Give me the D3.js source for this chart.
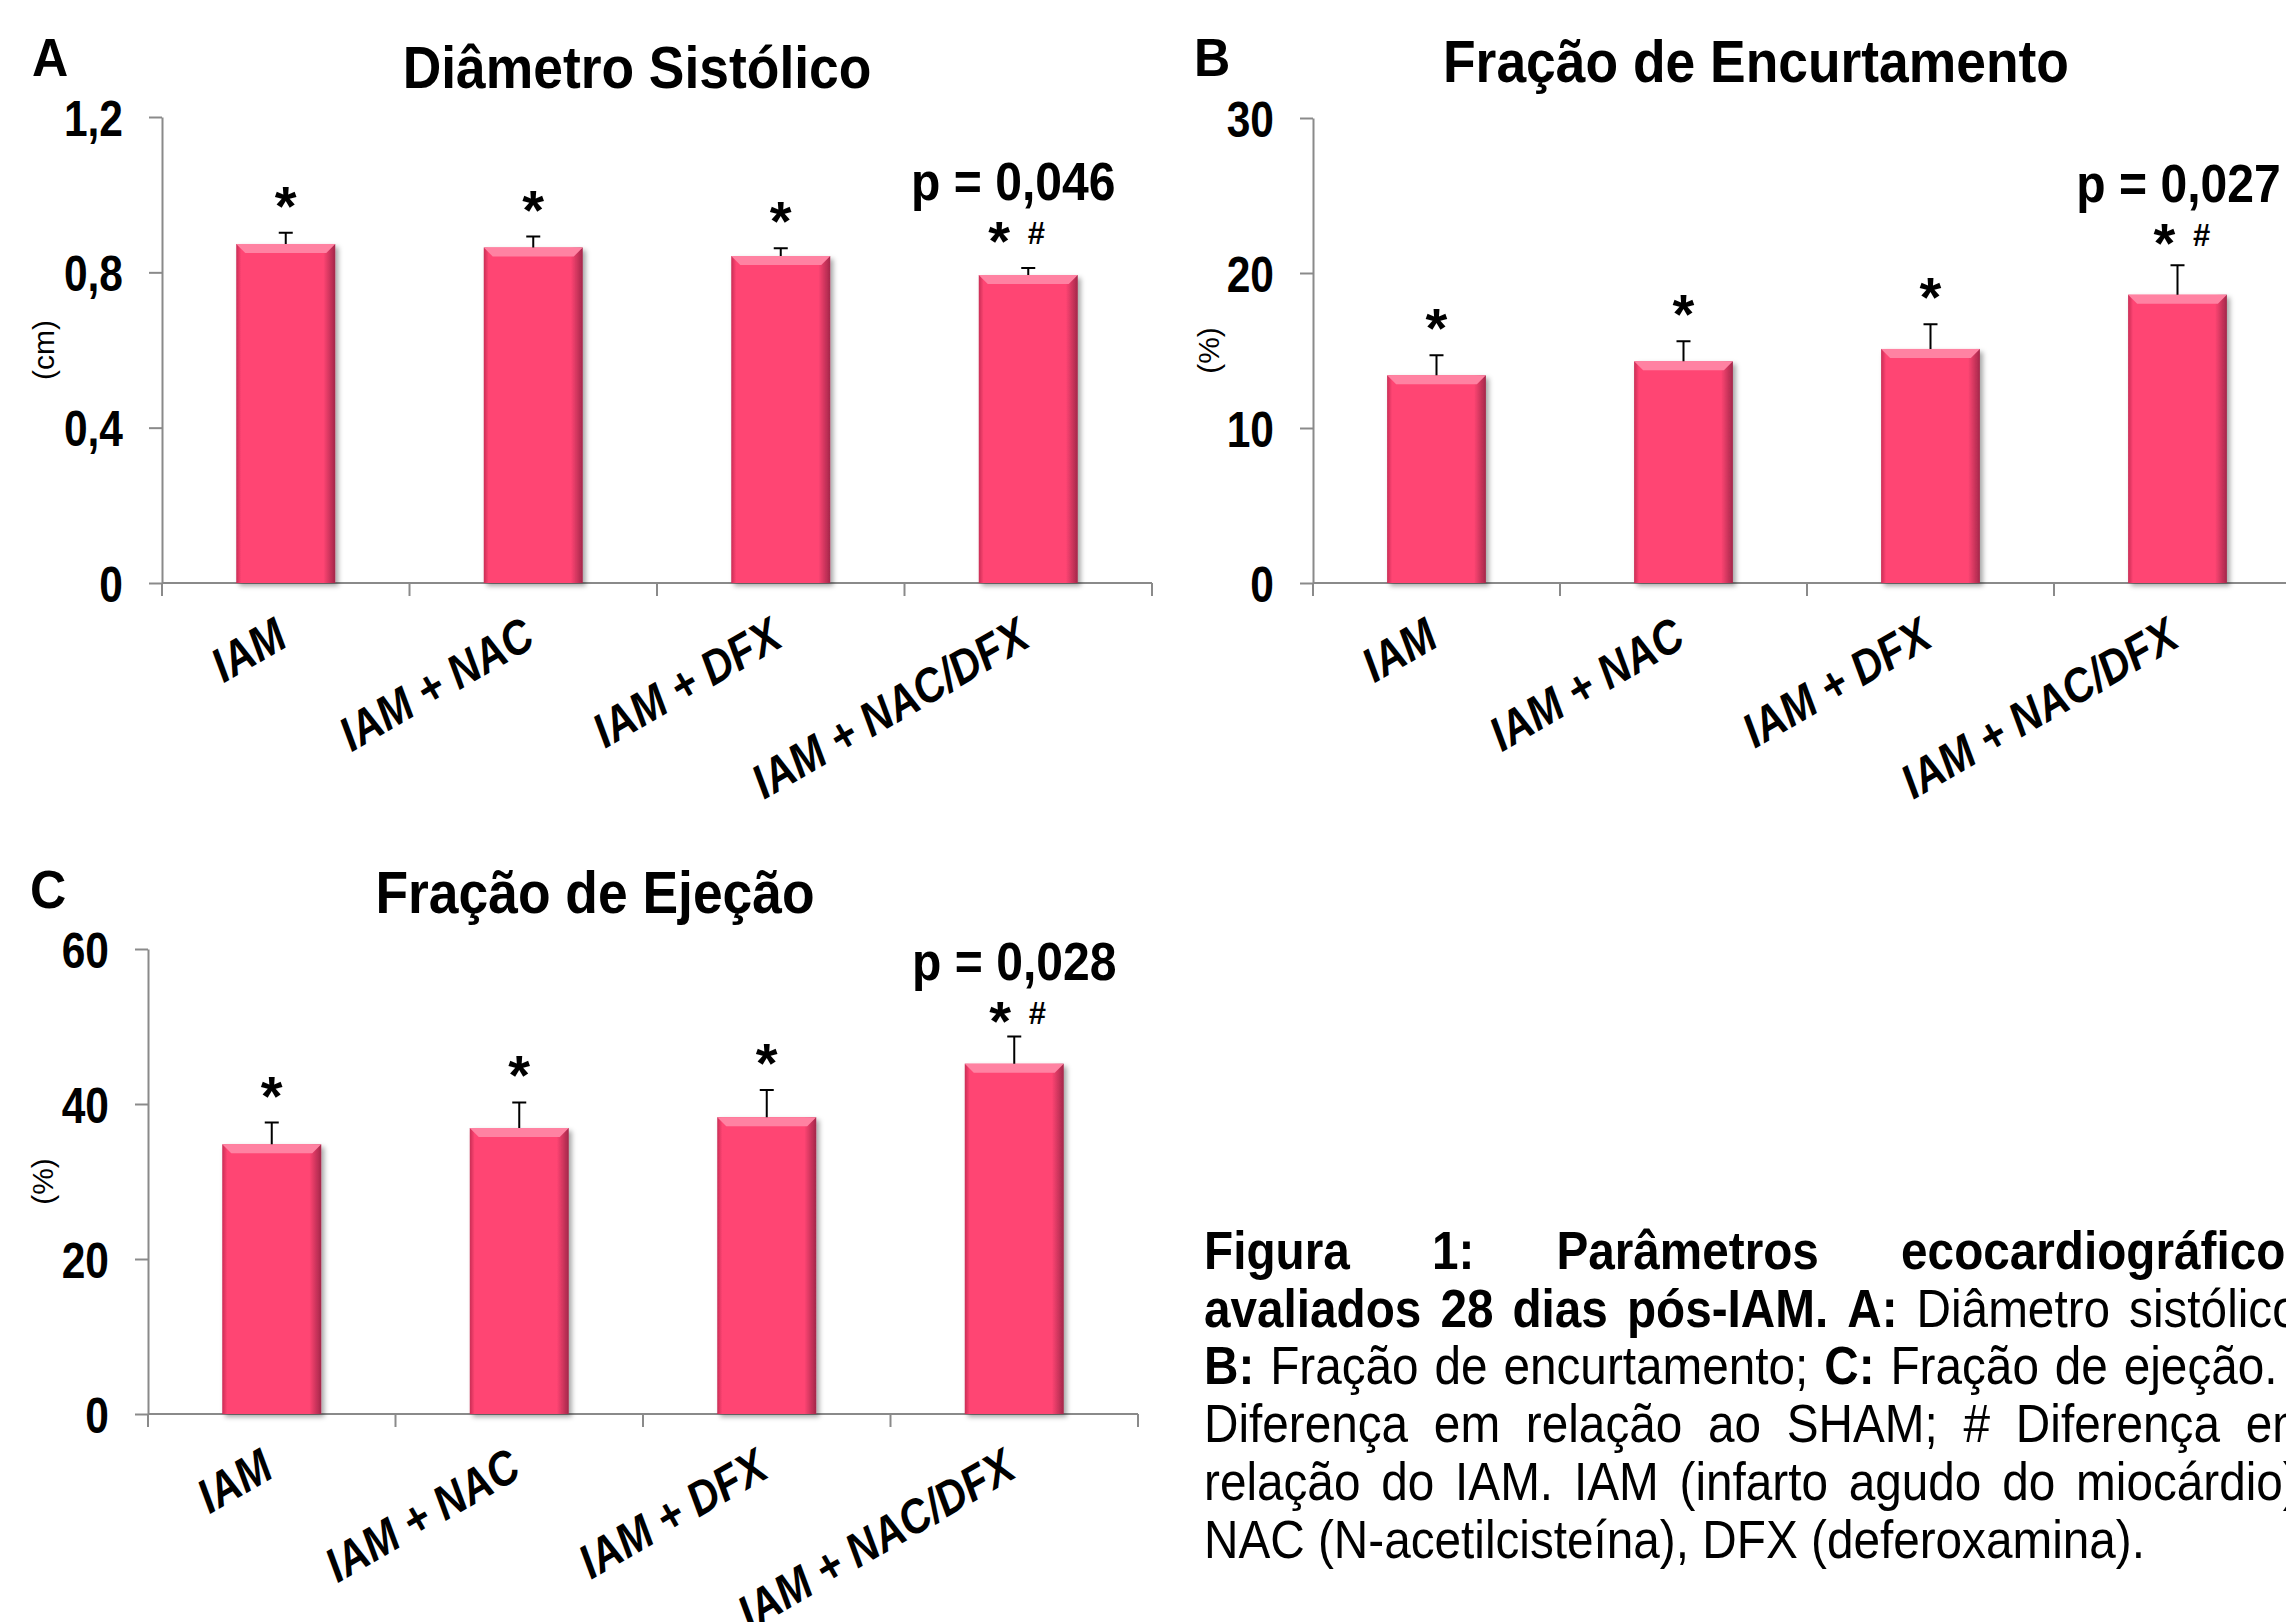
<!DOCTYPE html>
<html>
<head>
<meta charset="utf-8">
<script src="https://cdn.jsdelivr.net/npm/d3@7"></script>
<style>
  body { margin: 0; background: #fff; }
  svg { display: block; }
  text { font-family: "Liberation Sans", Arial, sans-serif; fill: #000; }
</style>
</head>
<body>
<svg></svg>
<script>
// data
const categories = ["IAM", "IAM + NAC", "IAM + DFX", "IAM + NAC/DFX"];
const marks = ["*", "*", "*", "* #"];

const diamSistolico = [0.873, 0.864, 0.842, 0.793];
const diamSistolicoErr = [0.029, 0.028, 0.020, 0.018];
const fracEncurt = [13.4, 14.3, 15.1, 18.6];
const fracEncurtErr = [1.3, 1.3, 1.6, 1.9];
const fracEjecao = [34.8, 36.9, 38.3, 45.2];
const fracEjecaoErr = [2.8, 3.3, 3.5, 3.5];

const ticksA = [0, 0.4, 0.8, 1.2];
const ticksB = [0, 10, 20, 30];
const ticksC = [0, 20, 40, 60];

const titles = ["Diâmetro Sistólico", "Fração de Encurtamento", "Fração de Ejeção"];
const units = ["(cm)", "(%)", "(%)"];
const letters = ["A", "B", "C"];
const pLabels = ["p = 0,046", "p = 0,027", "p = 0,028"];

const caption = [
  [["Figura 1: Parâmetros ecocardiográficos", true]],
  [["avaliados 28 dias pós-IAM. A:", true], ["Diâmetro sistólico;", false]],
  [["B:", true], ["Fração de encurtamento;", false], ["C:", true], ["Fração de ejeção. *", false]],
  [["Diferença em relação ao SHAM; # Diferença em", false]],
  [["relação do IAM. IAM (infarto agudo do miocárdio),", false]],
  [["NAC (N-acetilcisteína), DFX (deferoxamina).", false]]
];

const width = 2286, height = 1622;
const svg = d3.select('svg').attr('width', width).attr('height', height);

const defs = svg.append('defs');
defs.append('filter').attr('id', 'shadow')
    .attr('x', '-20%').attr('y', '-10%').attr('width', '150%').attr('height', '130%')
  .append('feDropShadow')
    .attr('dx', 3).attr('dy', 3).attr('stdDeviation', 2.5)
    .attr('flood-color', '#000').attr('flood-opacity', 0.35);
let grad = defs.append('linearGradient').attr('id', 'barFill')
    .attr('x1', 0).attr('x2', 1).attr('y1', 0).attr('y2', 0);
[[0, '#c92d55'], [0.05, '#ff4573'], [0.88, '#ff4573'], [1, '#a3274a']].forEach(s =>
    grad.append('stop').attr('offset', s[0]).attr('stop-color', s[1]));

// text in the source is narrow and tall, so draw bigger and squeeze
function label(parent, x, y, str, size, sx, opts) {
  opts = opts || {};
  return parent.append('text')
      .attr('transform', `translate(${x},${y})${opts.rotate ? ` rotate(${opts.rotate})` : ''} scale(${sx},1)`)
      .attr('text-anchor', opts.anchor || 'start')
      .attr('font-size', size)
      .attr('font-weight', opts.normal ? 'normal' : 'bold')
      .attr('font-style', opts.italic ? 'italic' : null)
      .text(str);
}

const panels = [
  {values: diamSistolico, errs: diamSistolicoErr, ticks: ticksA, fmt: d => d === 0 ? '0' : d3.format('.1f')(d).replace('.', ','),
   left: 162, right: 1152, top: 117, bottom: 583, letterX: 32, letterY: 76, titleX: 637, titleY: 88, unitX: 43, markGap: 36},
  {values: fracEncurt, errs: fracEncurtErr, ticks: ticksB, fmt: d3.format('d'),
   left: 1313, right: 2301, top: 118, bottom: 583, letterX: 1194, letterY: 76, titleX: 1756, titleY: 82, unitX: 1208, markGap: 31},
  {values: fracEjecao, errs: fracEjecaoErr, ticks: ticksC, fmt: d3.format('d'),
   left: 148, right: 1138, top: 949, bottom: 1414, letterX: 30, letterY: 908, titleX: 595, titleY: 913, unitX: 42, markGap: 25}
];
const markDx = [-10, 6, 5];

panels.forEach((p, k) => {
  let g = svg.append('g');
  let x = d3.scaleBand().domain(categories).range([p.left, p.right]).paddingInner(0.6).paddingOuter(0.3);
  let y = d3.scaleLinear().domain([0, d3.max(p.ticks)]).range([p.bottom, p.top]);
  let bw = x.bandwidth();

  // y axis
  let ya = g.append('g').attr('transform', `translate(${p.left},0)`)
      .call(d3.axisLeft(y).tickValues(p.ticks).tickFormat(p.fmt).tickSize(13).tickSizeOuter(0).tickPadding(26));
  ya.select('.domain').attr('stroke', '#8a8a8a').attr('stroke-width', 2);
  ya.selectAll('.tick line').attr('stroke', '#8a8a8a').attr('stroke-width', 2);
  ya.selectAll('.tick text')
      .attr('x', null).attr('dy', '0.36em')
      .attr('transform', 'translate(-39,0) scale(0.85,1)')
      .attr('font-size', 50).attr('font-weight', 'bold')
      .attr('font-family', '"Liberation Sans", Arial, sans-serif').attr('fill', '#000');

  // x axis with ticks between categories
  g.append('line').attr('x1', p.left).attr('x2', p.right).attr('y1', p.bottom).attr('y2', p.bottom)
      .attr('stroke', '#8a8a8a').attr('stroke-width', 2);
  g.selectAll('.xtick').data(d3.range(categories.length + 1)).enter().append('line')
      .attr('x1', i => p.left + i * x.step()).attr('x2', i => p.left + i * x.step())
      .attr('y1', p.bottom).attr('y2', p.bottom + 13)
      .attr('stroke', '#8a8a8a').attr('stroke-width', 2);

  categories.forEach(c => label(g, x(c) + bw / 2 + 4, p.bottom + 62, c, 48, 0.87,
      {anchor: 'end', rotate: -30, italic: true}));

  // bars
  let bars = g.selectAll('.bar').data(p.values).enter().append('g').attr('filter', 'url(#shadow)');
  bars.append('rect')
      .attr('x', (d, i) => x(categories[i])).attr('y', d => y(d))
      .attr('width', bw).attr('height', d => p.bottom - y(d))
      .attr('fill', 'url(#barFill)');
  bars.append('polygon')
      .attr('points', (d, i) => {
        let x0 = x(categories[i]), y0 = y(d), b = 9;
        return [[x0, y0], [x0 + bw, y0], [x0 + bw - b, y0 + b], [x0 + b, y0 + b]].join(' ');
      })
      .attr('fill', '#ff82a2');

  // error bars
  g.selectAll('.err').data(p.values).enter().append('path')
      .attr('d', (d, i) => {
        let cx = x(categories[i]) + bw / 2, t = y(d + p.errs[i]);
        return `M${cx},${y(d)}V${t}M${cx - 7},${t}H${cx + 7}`;
      })
      .attr('fill', 'none').attr('stroke', '#000').attr('stroke-width', 2);

  // significance marks
  marks.forEach((m, i) => {
    let cx = x(categories[i]) + bw / 2, t = y(p.values[i] + p.errs[i]);
    if (m === '*') {
      label(g, cx, t - 36 + 28, '*', 56, 1, {anchor: 'middle'});
    } else {
      let mc = t - p.markGap, dx = markDx[k];
      label(g, cx + dx - 19, mc + 28, '*', 56, 1, {anchor: 'middle'});
      label(g, cx + dx + 18, mc + 12, '#', 31, 1, {anchor: 'middle'});
      label(g, cx + dx - 5, mc - 32, pLabels[k], 54, 0.89, {anchor: 'middle'});
    }
  });

  label(g, p.titleX, p.titleY, titles[k], 60, 0.89, {anchor: 'middle'});
  label(g, p.letterX, p.letterY, letters[k], 54, 0.93);
  label(g, p.unitX + 11, (p.top + p.bottom) / 2, units[k], 30, 1, {anchor: 'middle', rotate: -90, normal: true});
});

// caption, justified like the source
const capLeft = 1204, capRight = 2312, capTop = 1269, capStep = 57.7, capSize = 53, capSx = 0.9;
let measure = svg.append('text').attr('font-size', capSize);
function wordWidth(w, bold) {
  measure.attr('font-weight', bold ? 'bold' : 'normal').text(w);
  return measure.node().getComputedTextLength() * capSx;
}
let spaceW = wordWidth('a a', false) - wordWidth('aa', false);
caption.forEach((line, li) => {
  let words = [];
  line.forEach(seg => seg[0].split(' ').forEach(w => words.push({w: w, bold: seg[1]})));
  words.forEach(o => o.width = wordWidth(o.w, o.bold));
  let total = d3.sum(words, o => o.width);
  let gap = li < caption.length - 1 ? (capRight - capLeft - total) / (words.length - 1) : spaceW;
  let cx = capLeft;
  words.forEach(o => {
    label(svg, cx, capTop + li * capStep, o.w, capSize, capSx, {normal: !o.bold});
    cx += o.width + gap;
  });
});
measure.remove();
</script>
</body>
</html>
